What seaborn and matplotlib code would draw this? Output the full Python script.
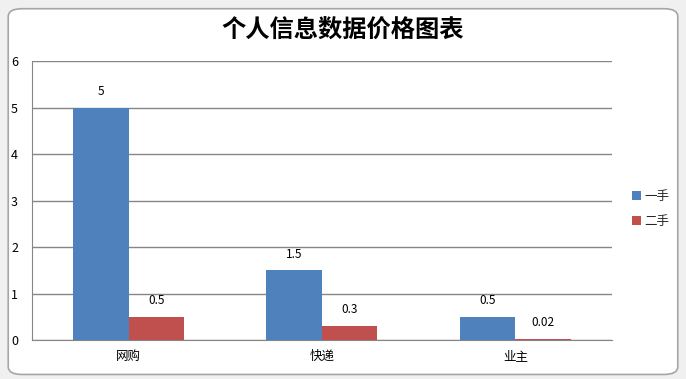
import pandas as pd
import matplotlib.pyplot as plt
import seaborn as sns
from matplotlib.patches import FancyBboxPatch

categories = ['网购', '快递', '业主']
series = ['一手', '二手']
first_hand = [5, 1.5, 0.5]
second_hand = [0.5, 0.3, 0.02]
value_labels = [['5', '1.5', '0.5'], ['0.5', '0.3', '0.02']]
yticks = [0, 1, 2, 3, 4, 5, 6]

df = pd.DataFrame({
    'cat': categories * 2,
    'series': [series[0]] * 3 + [series[1]] * 3,
    'value': first_hand + second_hand,
})

sns.set_style('white')
plt.rcParams['font.family'] = ['Noto Sans CJK SC', 'DejaVu Sans']

fig = plt.figure(figsize=(6.86, 3.79), dpi=100)
fig.patch.set_facecolor('#f0f0f0')
# chart frame like excel
frame = FancyBboxPatch((0.012, 0.012), 0.976, 0.965, boxstyle='round,pad=0,rounding_size=0.02',
                       transform=fig.transFigure, facecolor='white', edgecolor='#a6a6a6',
                       linewidth=1.2, zorder=-5)
fig.patches.append(frame)

ax = fig.add_axes([0.0466, 0.1029, 0.8455, 0.736])
ax.set_zorder(2)
ax.set_facecolor('white')
sns.barplot(data=df, x='cat', y='value', hue='series', hue_order=series,
            palette=['#4f81bd', '#c0504d'], width=0.574, saturation=1,
            linewidth=0, ax=ax, zorder=3, legend=True)

for cont, labels in zip(ax.containers, value_labels):
    ax.bar_label(cont, labels=labels, padding=7, fontsize=8.5, color='black')

ax.set_ylim(0, 6)
ax.set_yticks(yticks)
ax.set_xlim(-0.5, 2.5)
ax.yaxis.grid(True, color='#868686', linewidth=1, zorder=0)
ax.set_axisbelow(True)
for s in ['top', 'right']:
    ax.spines[s].set_visible(False)
ax.spines['left'].set_color('#868686')
ax.spines['bottom'].set_color('#868686')
ax.tick_params(axis='both', labelsize=9, length=0, colors='black')
ax.tick_params(axis='y', pad=10)
ax.tick_params(axis='x', pad=7)
ax.set_xlabel('')
ax.set_ylabel('')

leg = ax.legend(loc='center left', bbox_to_anchor=(1.015, 0.47), frameon=False,
                fontsize=9, handlelength=0.7, handleheight=0.7, labelspacing=1.0,
                handletextpad=0.3)

fig.text(0.5, 0.92, '个人信息数据价格图表', ha='center', va='center',
         fontsize=17.5, fontweight='bold', color='black')

plt.savefig('out.png', dpi=100, facecolor=fig.get_facecolor())
plt.close()
